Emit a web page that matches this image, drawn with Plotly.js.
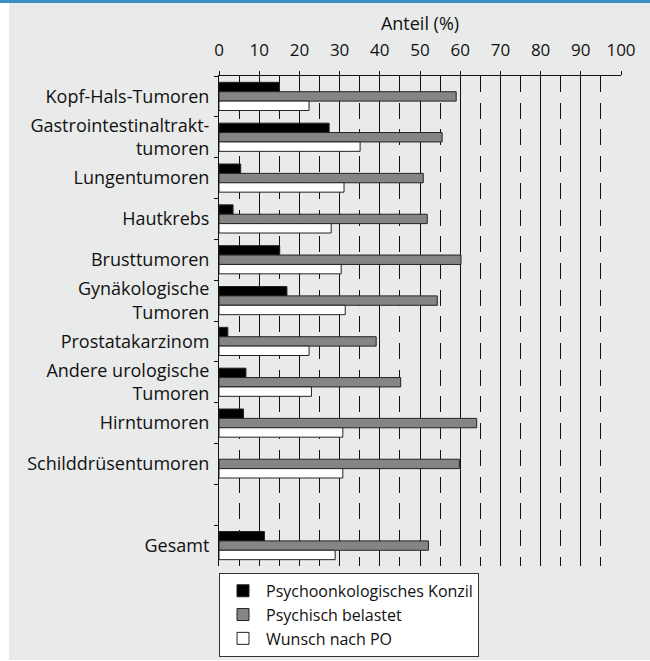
<!DOCTYPE html>
<html>
<head>
<meta charset="utf-8">
<script src="https://cdn.plot.ly/plotly-3.0.1.min.js"></script>
<style>
  html, body { margin: 0; padding: 0; background: #ffffff; }
  #topline { position: absolute; left: 0; top: 0; width: 650px; height: 3px; background: #3b8fc2; }
  #panel { position: absolute; left: 9px; top: 3px; width: 641px; height: 657px; background: #e9eaea; }
  #chart { position: absolute; left: 0; top: 0; width: 650px; height: 661px; }
</style>
</head>
<body>
<div id="topline"></div>
<div id="panel"></div>
<div id="chart"></div>
<script>
const categories = [
  "Kopf-Hals-Tumoren",
  "Gastrointestinaltrakt-<br>tumoren",
  "Lungentumoren",
  "Hautkrebs",
  "Brusttumoren",
  "Gynäkologische<br>Tumoren",
  "Prostatakarzinom",
  "Andere urologische<br>Tumoren",
  "Hirntumoren",
  "Schilddrüsentumoren",
  " ",
  "Gesamt"
];
const konzil   = [15, 27.4, 5.4, 3.5, 15.1, 16.9, 2.2, 6.7, 6.1, null, null, 11.3];
const belastet = [59, 55.5, 50.8, 51.8, 60.2, 54.3, 39.1, 45.2, 64.1, 59.8, null, 52.1];
const wunsch   = [22.4, 35.1, 31.1, 27.9, 30.4, 31.4, 22.4, 23.0, 30.8, 30.8, null, 28.9];
const seriesNames = ["Psychoonkologisches Konzil", "Psychisch belastet", "Wunsch nach PO"];
const xTicks = [0, 10, 20, 30, 40, 50, 60, 70, 80, 90, 100];

const FONT = "Open Sans, Noto Sans, sans-serif";
const INK = "#111111";
const lineStyle = { color: "#222222", width: 1 };

const traces = [
  { name: seriesNames[0], x: konzil, marker: { color: "#000000", line: lineStyle } },
  { name: seriesNames[1], x: belastet, marker: { color: "#858585", line: lineStyle } },
  { name: seriesNames[2], x: wunsch, marker: { color: "#ffffff", line: lineStyle } }
].map(t => Object.assign({ type: "bar", orientation: "h", y: categories, hoverinfo: "x+name" }, t));

const layout = {
  width: 650, height: 661,
  margin: { l: 219, r: 29, t: 76, b: 95, pad: 0, autoexpand: false },
  paper_bgcolor: "rgba(0,0,0,0)",
  plot_bgcolor: "rgba(0,0,0,0)",
  font: { family: FONT, size: 17, color: INK },
  barmode: "group",
  bargap: 0.31,
  bargroupgap: 0,
  showlegend: true,
  legend: {
    x: 0, xanchor: "left", y: -0.014, yanchor: "top",
    bgcolor: "#ffffff", bordercolor: "#333333", borderwidth: 1,
    font: { family: FONT, size: 16, color: INK },
    itemwidth: 36,
    traceorder: "normal", tracegroupgap: 0
  },
  xaxis: {
    side: "top",
    range: [0, 100],
    tickvals: xTicks,
    ticktext: xTicks.map(String),
    ticks: "outside", ticklen: 4, tickcolor: INK,
    showline: true, linecolor: INK, linewidth: 1,
    showgrid: true, gridcolor: INK, gridwidth: 1,
    zeroline: false,
    minor: { dtick: 5, tick0: 0, showgrid: true, gridcolor: INK, gridwidth: 1, griddash: "16px,10.7px" },
    tickfont: { family: FONT, size: 17, color: INK },
    ticklabelstandoff: 8,
    title: { text: "Anteil (%)", font: { family: FONT, size: 18, color: INK }, standoff: 2 },
    fixedrange: true
  },
  yaxis: {
    type: "category",
    categoryorder: "array",
    categoryarray: categories,
    autorange: "reversed",
    showline: true, linecolor: INK, linewidth: 1,
    ticks: "outside", ticklen: 4, tickcolor: INK,
    tickson: "boundaries",
    showgrid: false, zeroline: false,
    tickfont: { family: FONT, size: 18, color: INK },
    ticklabelstandoff: 5,
    fixedrange: true
  }
};

Plotly.newPlot("chart", traces, layout, { displayModeBar: false, staticPlot: true });
</script>
</body>
</html>
